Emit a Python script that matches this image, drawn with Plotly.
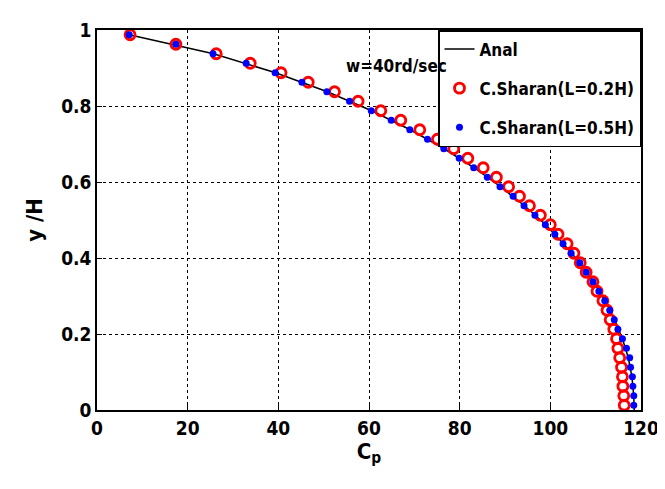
import plotly.graph_objects as go

# Row positions (y/H) shared by the numerical series
y_rows = [0.9875, 0.9625, 0.9375, 0.9125, 0.8875, 0.8625, 0.8375, 0.8125, 0.7875, 0.7625,
          0.7375, 0.7125, 0.6875, 0.6625, 0.6375, 0.6125, 0.5875, 0.5625, 0.5375, 0.5125,
          0.4875, 0.4625, 0.4375, 0.4125, 0.3875, 0.3625, 0.3375, 0.3125, 0.2875, 0.2625,
          0.2375, 0.2125, 0.1875, 0.1625, 0.1375, 0.1125, 0.0875, 0.0625, 0.0375, 0.0125]

cp_L02 = [7.3, 17.4, 26.3, 33.8, 40.6, 46.6, 52.4, 57.6, 62.6, 67.0,
          71.2, 75.1, 78.7, 81.8, 85.2, 88.1, 90.8, 93.2, 95.4, 97.8,
          100.0, 101.7, 103.7, 105.2, 106.6, 107.9, 109.4, 110.3, 111.6, 112.5,
          113.2, 114.0, 114.6, 114.9, 115.3, 115.7, 115.9, 116.0, 116.2, 116.3]

cp_L05 = [7.1, 17.4, 25.6, 32.9, 39.3, 45.2, 50.7, 55.7, 60.5, 64.9,
          69.0, 72.9, 76.5, 79.9, 83.1, 86.1, 88.9, 91.8, 94.2, 96.6,
          98.9, 101.0, 102.8, 104.6, 106.5, 107.9, 109.4, 110.7, 112.0, 113.1,
          114.1, 114.9, 115.9, 116.8, 117.5, 117.7, 118.1, 118.2, 118.4, 118.4]

y_anal = [0.9875, 0.9375, 0.8875, 0.8375, 0.7875, 0.7375, 0.6875, 0.6375, 0.5875, 0.5375,
          0.4875, 0.4375, 0.3875, 0.3375, 0.2875, 0.2375, 0.1875, 0.1375, 0.0875, 0.0375, 0.0]
cp_anal = [7.1, 25.7, 39.4, 50.8, 60.6, 69.1, 76.6, 83.2, 89.0, 94.3,
           99.0, 102.9, 106.5, 109.5, 112.1, 114.2, 115.9, 117.2, 118.0, 118.4, 118.5]

x_ticks = [0, 20, 40, 60, 80, 100, 120]
y_ticks = [0, 0.2, 0.4, 0.6, 0.8, 1]
y_tick_text = ["0", "0.2", "0.4", "0.6", "0.8", "1"]

FONT = "Liberation Sans Narrow, DejaVu Sans Condensed, Arial Narrow, sans-serif"

fig = go.Figure()
fig.add_trace(go.Scatter(x=cp_anal, y=y_anal, mode="lines", name="Anal",
                         line=dict(color="black", width=1.5), legendgroup="a"))
fig.add_trace(go.Scatter(x=cp_L02, y=y_rows, mode="markers", name="C.Sharan(L=0.2H)",
                         marker=dict(symbol="circle-open", color="red", size=10,
                                     line=dict(width=2.8, color="red")), legendgroup="b"))
fig.add_trace(go.Scatter(x=cp_L05, y=y_rows, mode="markers", name="C.Sharan(L=0.5H)",
                         marker=dict(symbol="circle", color="blue", size=7), legendgroup="c"))

axis_common = dict(showline=True, linecolor="black", linewidth=1.5, mirror=True,
                   ticks="inside", ticklen=5, tickcolor="black",
                   showgrid=True, gridcolor="black", gridwidth=1, griddash="dot",
                   zeroline=False,
                   tickfont=dict(family=FONT, size=19, color="black", weight="bold"))

fig.update_xaxes(range=[0, 120], tickvals=x_ticks, **axis_common,
                 title=dict(text="C<sub>p</sub>", standoff=4,
                            font=dict(family=FONT, size=22, color="black", weight="bold")))
fig.update_yaxes(range=[0, 1], tickvals=y_ticks, ticktext=y_tick_text, **axis_common,
                 title=dict(text="y /H", standoff=12,
                            font=dict(family=FONT, size=22, color="black", weight="bold")))

fig.add_annotation(x=66, y=0.905, xref="x", yref="y", text="w=40rd/sec", showarrow=False,
                   font=dict(family=FONT, size=17, color="black", weight="bold"))

fig.update_layout(
    width=665, height=489,
    margin=dict(l=89, r=32, t=22, b=87),
    plot_bgcolor="white", paper_bgcolor="white",
    showlegend=True,
    legend=dict(x=1, y=1, xanchor="right", yanchor="top",
                bgcolor="white", bordercolor="black", borderwidth=1.5,
                font=dict(family=FONT, size=17, color="black", weight="bold"),
                tracegroupgap=14, itemwidth=30),
)

fig.write_html("out.html")
